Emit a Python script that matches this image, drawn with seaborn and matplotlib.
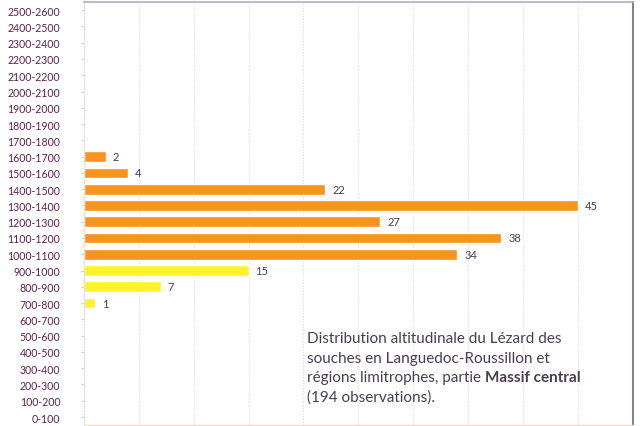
import numpy as np
import pandas as pd
import seaborn as sns
import matplotlib.pyplot as plt

# altitude classes, top to bottom as on the chart
altitudes = [f"{lo}-{lo + 100}" for lo in range(2500, -1, -100)]
counts = [0, 0, 0, 0, 0, 0, 0, 0, 0, 2, 4, 22, 45, 27, 38, 34, 15, 7, 1,
          0, 0, 0, 0, 0, 0, 0]
low_limit = 1000  # classes below this are drawn in yellow

ORANGE = "#f7931e"
YELLOW = "#fff22a"
TICK_COLOR = "#62204c"
TEXT_COLOR = "#4a3c52"

df = pd.DataFrame({"altitude": altitudes, "count": counts})
df["zone"] = ["low" if int(a.split("-")[0]) < low_limit else "high" for a in altitudes]

sns.set_style("white")
plt.rcParams["font.family"] = ["Lato", "DejaVu Sans"]

fig = plt.figure(figsize=(6.4, 4.27), dpi=100)
ax = fig.add_axes([0.131, 0.002, 0.858, 0.991])

sns.barplot(data=df, x="count", y="altitude", hue="zone", order=altitudes,
            palette={"low": YELLOW, "high": ORANGE}, dodge=False, width=0.66,
            orient="h", legend=False, ax=ax, saturation=1)

for cont in ax.containers:
    labels = [f"{v:g}" if v > 0 else "" for v in cont.datavalues]
    ax.bar_label(cont, labels=labels, padding=5, fontsize=8, color=TEXT_COLOR)

ax.set_xlim(0, 50)
ax.set_ylim(len(altitudes) - 0.5, -0.5)
ax.set_xticks(np.arange(0, 50, 5))
ax.xaxis.grid(True, linestyle=(0, (1, 1.5)), color="#d8dce4", linewidth=0.8)
ax.set_axisbelow(True)
ax.tick_params(axis="x", bottom=False, labelbottom=False)
ax.tick_params(axis="y", left=True, length=2, width=0.6, color="#c8c8d0",
               pad=15, labelsize=7.6, labelcolor=TICK_COLOR)
ax.set_xlabel("")
ax.set_ylabel("")

ax.spines["left"].set_color("#d8dce4")
ax.spines["left"].set_linestyle((0, (1, 1.5)))
ax.spines["left"].set_linewidth(0.8)
ax.spines["right"].set_color("#8a7894")
ax.spines["right"].set_linewidth(1.4)
ax.spines["top"].set_color("#b8a8c8")
ax.spines["top"].set_linewidth(1.2)
ax.spines["bottom"].set_color("#f0dcc0")
ax.spines["bottom"].set_linewidth(1)

# caption, with the bold part as its own text placed after the plain one
cap = dict(fontsize=11, color=TEXT_COLOR, va="baseline", ha="left")
x0, y0, step = 0.406, 0.196, 0.046
ax.text(x0, y0, "Distribution altitudinale du Lézard des",
        transform=ax.transAxes, **cap)
ax.text(x0, y0 - step, "souches en Languedoc-Roussillon et",
        transform=ax.transAxes, **cap)
part = ax.text(x0, y0 - 2 * step, "régions limitrophes, partie ",
               transform=ax.transAxes, **cap)
ax.annotate("Massif central", xy=(1, y0 - 2 * step), xycoords=(part, ax.transAxes),
            fontweight="bold", **cap)
ax.text(x0, y0 - 3 * step, "(194 observations).", transform=ax.transAxes, **cap)

fig.savefig("out.png")
